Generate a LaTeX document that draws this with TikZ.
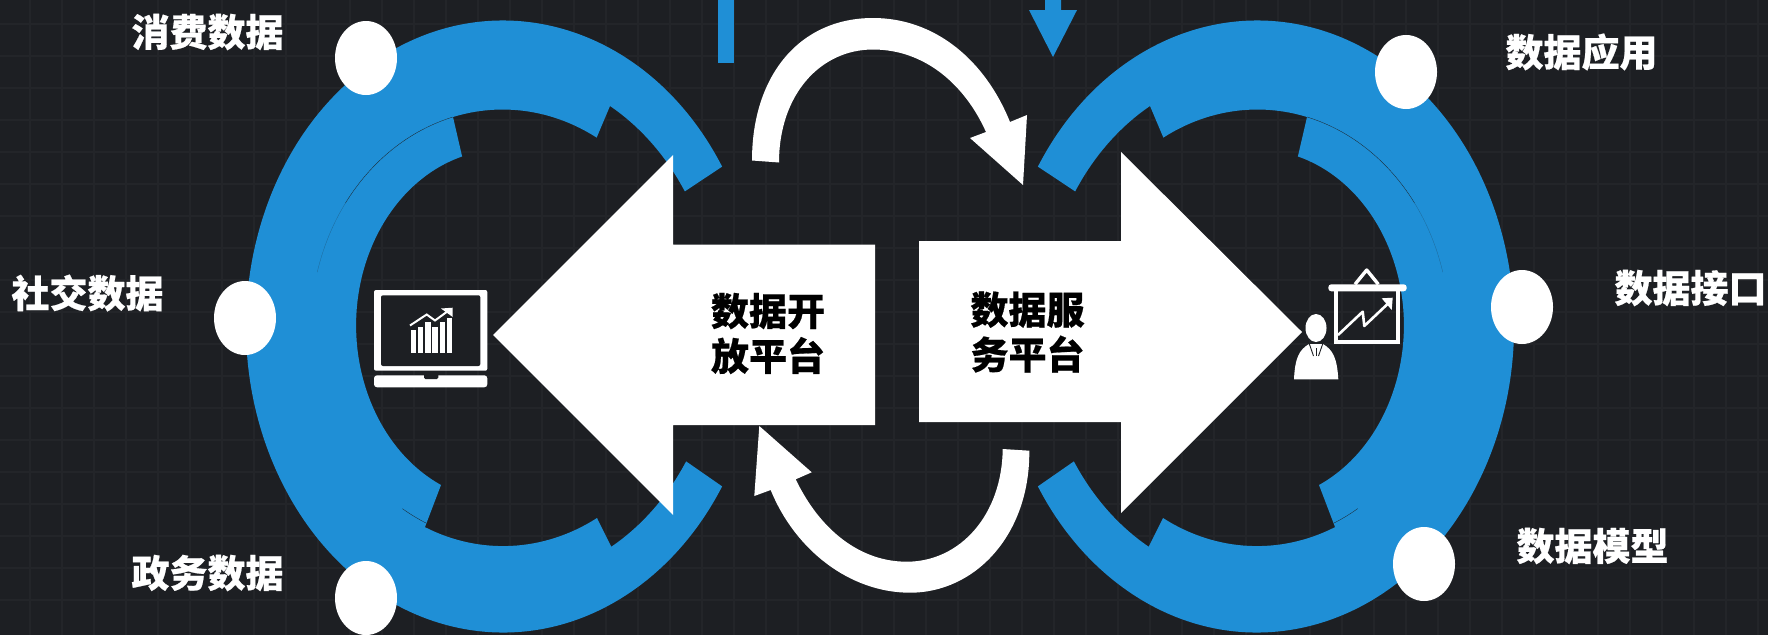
\documentclass[tikz,border=0pt]{standalone}
\usepackage{fontspec}
\newfontfamily\cjk{Noto Sans CJK SC}[BoldFeatures={FakeBold=0.5}]
\usetikzlibrary{shapes.geometric}
\definecolor{bgdark}{HTML}{1D1F23}
\definecolor{bggrid}{HTML}{232529}
\definecolor{ringblue}{HTML}{1F8FD6}
\tikzset{
  bluefill/.style={fill=ringblue,draw=none},
  whitefill/.style={fill=white,draw=none},
  darkfill/.style={fill=bgdark,draw=none},
  dot/.style={ellipse,fill=white,draw=none,minimum width=62pt,minimum height=74pt,inner sep=0pt},
  lightlabel/.style={text=white,inner sep=0pt,font=\cjk\bfseries\fontsize{38}{46}\selectfont},
  darklabel/.style={text=black,inner sep=0pt,align=center,font=\cjk\bfseries\fontsize{38}{45}\selectfont},
  hair/.style={draw=bgdark,line width=0.3pt},
}
\newcommand{\ringshape}{%
  \fill[bluefill] (503,326.5) ++(-31.5:257 and 306)
    arc[start angle=-31.5,end angle=-328.5,x radius=257,y radius=306]
    -- ++(-36,-25)
    arc[start angle=32,end angle=60,x radius=215,y radius=254]
    -- (597,518)
    arc[start angle=60.7,end angle=114,x radius=192,y radius=219.5]
    -- (441,485)
    arc[start angle=115,end angle=253.8,x radius=147,y radius=176]
    -- (453,117)
    arc[start angle=255,end angle=299.3,x radius=192,y radius=219.5]
    -- (610,106)
    arc[start angle=300,end angle=328,x radius=215,y radius=254]
    -- cycle;
  \draw[hair] (453,117) arc[start angle=255,end angle=215,x radius=192,y radius=219.5];
  \draw[hair,draw opacity=0.35] (453,117) ++(255:-192 and -219.5) ++(215:192 and 219.5)
    arc[start angle=215,end angle=195,x radius=192,y radius=219.5];
  \draw[hair] (426,523) arc[start angle=114,end angle=122,x radius=192,y radius=219.5];
}
\begin{document}
\begin{tikzpicture}[x=1pt,y=-1pt]
\useasboundingbox (0,0) rectangle (1768,635);
\fill[bgdark] (0,0) rectangle (1768,635);
\foreach \gx in {30,62,...,1760} \draw[bggrid,line width=1.6pt] (\gx,0) -- (\gx,635);
\foreach \gy in {24,56,...,630} \draw[bggrid,line width=1.6pt] (0,\gy) -- (1768,\gy);

% rings
\ringshape
\begin{scope}[shift={(1760,0)},xscale=-1]
\ringshape
\end{scope}

% top blue bar and arrow
\fill[bluefill] (717.5,0) rectangle (734,63);
\fill[bluefill] (1045,0) -- (1061,0) -- (1061,10) -- (1077,10) -- (1053,57) -- (1029,10) -- (1045,10) -- cycle;

% big arrows
\fill[whitefill] (493,335) -- (673,155) -- (673,244.5) -- (875,244.5) -- (875,425) -- (673,425) -- (673,515) -- cycle;
\fill[whitefill] (1302,332) -- (1121,152) -- (1121,241) -- (919,241) -- (919,422) -- (1121,422) -- (1121,513) -- cycle;

% curved arrows
\fill[whitefill] (752,160.5) .. controls (752,75) and (800,18) .. (873,18)
  .. controls (935,18) and (985,60) .. (1010,122)
  -- (1027,115) -- (1023,185) -- (970,138) -- (986,132)
  .. controls (965,85) and (925,49.5) .. (873,49.5)
  .. controls (820,49.5) and (779,95) .. (779,162.5) -- cycle;
\fill[whitefill] (1029.3,450.7) .. controls (1030,535) and (975,592.7) .. (910,592.7)
  .. controls (850,592.7) and (795,550) .. (770.7,490)
  -- (754.3,496) -- (759.3,426) -- (811.7,472.3) -- (795.7,479.3)
  .. controls (820,530) and (860,561.7) .. (906.7,561.7)
  .. controls (960,561.7) and (1002,515) .. (1002.7,449) -- cycle;

% dots
\node[dot] (d1) at (366,58) {};
\node[dot] (d2) at (245,318) {};
\node[dot] (d3) at (366,598) {};
\node[dot] (d4) at (1406,72) {};
\node[dot] (d5) at (1522,307) {};
\node[dot] (d6) at (1424,564) {};

% outer labels
\node[lightlabel] (l1) at (207.5,32) {消费数据};
\node[lightlabel] (l2) at (87.5,293) {社交数据};
\node[lightlabel] (l3) at (207.5,573) {政务数据};
\node[lightlabel] (l4) at (1581.5,52) {数据应用};
\node[lightlabel] (l5) at (1690.5,288) {数据接口};
\node[lightlabel] (l6) at (1592.5,546) {数据模型};

% centre labels
\node[darklabel] (c1) at (768,333.5) {数据开\\放平台};
\node[darklabel] (c2) at (1027.5,332) {数据服\\务平台};

% laptop icon
\fill[whitefill,rounded corners=2pt] (374,290) rectangle (487.3,370.7);
\fill[darkfill,rounded corners=2pt] (381,295.3) rectangle (480.3,366);
\fill[whitefill,rounded corners=3pt] (374,375.3) rectangle (487.3,387.3);
\fill[darkfill,rounded corners=1.5pt] (424,373) rectangle (438.3,379);
\foreach \bx/\bt in {410.7/330,417.7/326.7,425/322.3,432.3/326.7,439.7/322.3,446.7/317.7}
  \fill[whitefill] (\bx,\bt) rectangle ++(5.7,{353.3-\bt});
\draw[white,line width=2pt] (410,325.5) -- (426.7,314.5) -- (435,320.5) -- (450,309.5);
\fill[whitefill] (441,308.5) -- (452.7,307.7) -- (452.7,317) -- cycle;

% presenter icon
\draw[white,line width=3.4pt,line join=round] (1355,284.3) -- (1366.7,270) -- (1378.3,284.3);
\fill[whitefill,rounded corners=3pt] (1328.3,284.3) rectangle (1406.7,291.3);
\draw[white,line width=4pt] (1335.7,290) -- (1335.7,342) -- (1398,342) -- (1398,290);
\draw[white,line width=2.6pt,line join=round] (1338,335) -- (1362.7,311.7) -- (1364.3,326) -- (1388.3,303.3);
\fill[whitefill] (1381.7,298.3) -- (1392.7,297.7) -- (1391.7,310) -- cycle;
\fill[whitefill] (1316,328) ellipse [x radius=10.5,y radius=14];
\fill[whitefill] (1294,379.3) .. controls (1295,358) and (1299,350) .. (1309,344)
  -- (1323,344) .. controls (1333,350) and (1337,358) .. (1338.3,379.3) -- cycle;
\draw[bgdark,line width=0.9pt] (1309,343) -- (1313.5,356);
\draw[bgdark,line width=0.9pt] (1323,343) -- (1318.5,356);
\draw[bgdark,line width=0.9pt] (1316,348) -- (1316,356);
\end{tikzpicture}
\end{document}
